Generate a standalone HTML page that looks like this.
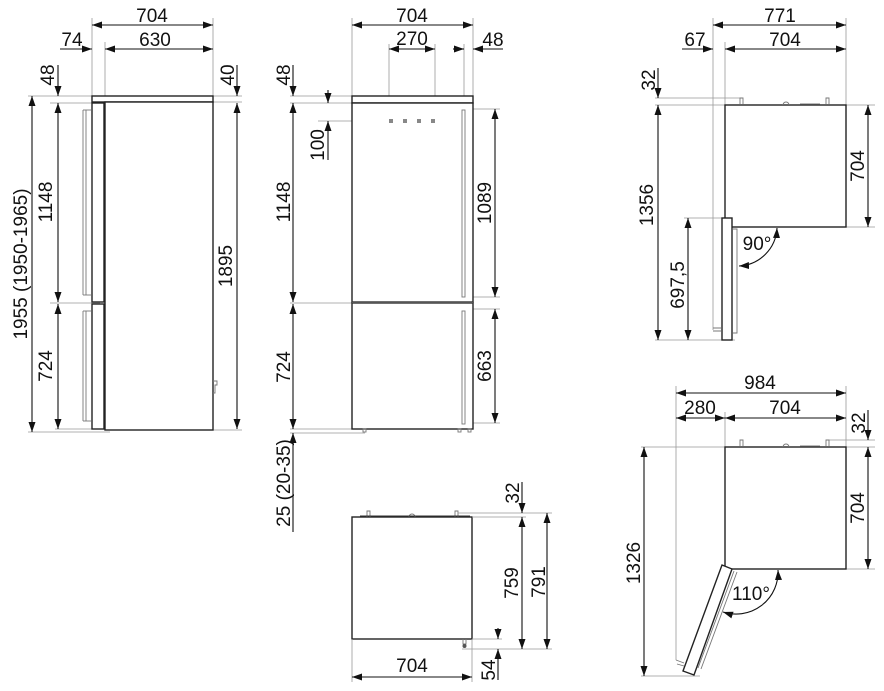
<!DOCTYPE html>
<html><head><meta charset="utf-8"><style>
html,body{margin:0;padding:0;background:#fff}
svg{display:block}
text{font-family:"Liberation Sans",Arial,sans-serif;font-size:19px;fill:#111}
.d{stroke:#111;stroke-width:1.1;fill:none}
.e{stroke:#999;stroke-width:0.8;fill:none}
.b{stroke:#222;stroke-width:1.4;fill:#fff}
.h{stroke:#777;stroke-width:0.9;fill:none}
</style></head><body>
<svg width="884" height="691" viewBox="0 0 884 691" xmlns="http://www.w3.org/2000/svg">
<defs>
<marker id="a" viewBox="0 0 10 10" refX="10" refY="5" markerWidth="10" markerHeight="10" markerUnits="userSpaceOnUse" orient="auto-start-reverse"><path d="M0,1.5 L10,5 L0,8.5z" fill="#111"/></marker>
</defs>
<g>
<!-- ===== LEFT side view ===== -->
<line class="e" x1="92" y1="18" x2="92" y2="96"/><line class="e" x1="105" y1="42" x2="105" y2="102"/><line class="e" x1="213" y1="18" x2="213" y2="96"/>
<line class="d" x1="92" y1="25" x2="213" y2="25" marker-start="url(#a)" marker-end="url(#a)"/>
<text x="152" y="22" text-anchor="middle">704</text>
<line class="d" x1="60" y1="49" x2="92" y2="49" marker-end="url(#a)"/>
<text x="72" y="46" text-anchor="middle">74</text>
<line class="d" x1="105" y1="49" x2="213" y2="49" marker-start="url(#a)" marker-end="url(#a)"/>
<text x="155" y="46" text-anchor="middle">630</text>
<!-- extension lines -->
<line class="e" x1="28" y1="96" x2="242" y2="96"/>
<line class="e" x1="50" y1="103" x2="92" y2="103"/><line class="e" x1="213" y1="102" x2="242" y2="102"/>
<line class="e" x1="50" y1="303" x2="100" y2="303"/>
<line class="e" x1="28" y1="432" x2="110" y2="432"/><line class="e" x1="55" y1="429" x2="92" y2="429"/>
<line class="e" x1="195" y1="430" x2="242" y2="430"/>
<!-- body -->
<rect class="b" x="92" y="96" width="121" height="6"/>
<rect class="b" x="105" y="102" width="108" height="328"/>
<rect class="b" x="92" y="103" width="12" height="199"/>
<rect class="b" x="92" y="304" width="12" height="125"/>
<line class="h" x1="83" y1="110" x2="83" y2="295"/><line class="h" x1="86" y1="110" x2="86" y2="295"/>
<line class="h" x1="83" y1="110" x2="91" y2="110"/><line class="h" x1="83" y1="295" x2="91" y2="295"/>
<line class="h" x1="83" y1="311" x2="83" y2="421"/><line class="h" x1="86" y1="311" x2="86" y2="421"/>
<line class="h" x1="83" y1="311" x2="91" y2="311"/><line class="h" x1="83" y1="421" x2="91" y2="421"/>
<path class="h" d="M213,381 h4 v4 h-2 v8 h-2"/>
<!-- left dims -->
<line class="d" x1="32" y1="96" x2="32" y2="432" marker-start="url(#a)" marker-end="url(#a)"/>
<text transform="translate(27,264) rotate(-90)" text-anchor="middle">1955 (1950-1965)</text>
<line class="d" x1="58" y1="65" x2="58" y2="96" marker-end="url(#a)"/>
<text transform="translate(54,75) rotate(-90)" text-anchor="middle">48</text>
<line class="d" x1="58" y1="103" x2="58" y2="302" marker-start="url(#a)" marker-end="url(#a)"/>
<text transform="translate(52,202) rotate(-90)" text-anchor="middle">1148</text>
<line class="d" x1="58" y1="304" x2="58" y2="429" marker-start="url(#a)" marker-end="url(#a)"/>
<text transform="translate(52,366) rotate(-90)" text-anchor="middle">724</text>
<line class="d" x1="237" y1="65" x2="237" y2="96" marker-end="url(#a)"/>
<text transform="translate(234,75) rotate(-90)" text-anchor="middle">40</text>
<line class="d" x1="237" y1="103" x2="237" y2="429" marker-start="url(#a)" marker-end="url(#a)"/>
<text transform="translate(232,266) rotate(-90)" text-anchor="middle">1895</text>

<!-- ===== MIDDLE front view ===== -->
<line class="e" x1="352" y1="18" x2="352" y2="96"/><line class="e" x1="473" y1="18" x2="473" y2="96"/>
<line class="d" x1="352" y1="25" x2="473" y2="25" marker-start="url(#a)" marker-end="url(#a)"/>
<text x="412" y="22" text-anchor="middle">704</text>
<line class="e" x1="389" y1="44" x2="389" y2="120"/><line class="e" x1="435" y1="44" x2="435" y2="120"/>
<line class="d" x1="389" y1="49" x2="435" y2="49" marker-start="url(#a)" marker-end="url(#a)"/>
<text x="412" y="45" text-anchor="middle">270</text>
<line class="e" x1="464" y1="44" x2="464" y2="108"/>
<line class="d" x1="453" y1="49" x2="464" y2="49" marker-end="url(#a)"/>
<line class="d" x1="503" y1="49" x2="473" y2="49" marker-end="url(#a)"/>
<text x="493" y="46" text-anchor="middle">48</text>
<line class="e" x1="290" y1="96" x2="352" y2="96"/><line class="e" x1="290" y1="103" x2="352" y2="103"/>
<line class="e" x1="318" y1="121" x2="390" y2="121"/>
<line class="e" x1="290" y1="303" x2="352" y2="303"/>
<line class="e" x1="290" y1="429" x2="352" y2="429"/><line class="e" x1="290" y1="433" x2="365" y2="433"/>
<line class="e" x1="463" y1="109" x2="500" y2="109"/><line class="e" x1="463" y1="297" x2="500" y2="297"/>
<line class="e" x1="463" y1="309" x2="500" y2="309"/><line class="e" x1="463" y1="423" x2="500" y2="423"/>
<rect class="b" x="352" y="96" width="121" height="7"/>
<rect class="b" x="352" y="103" width="121" height="199"/>
<rect class="b" x="352" y="303" width="121" height="126"/>
<line x1="352" y1="302.5" x2="473" y2="302.5" stroke="#555" stroke-width="1.5"/>
<g fill="#888"><rect x="389" y="119" width="4" height="4"/><rect x="403" y="119" width="4" height="4"/><rect x="417" y="119" width="4" height="4"/><rect x="431" y="119" width="4" height="4"/></g>
<rect class="h" x="462" y="110" width="3" height="187"/><rect class="h" x="462" y="311" width="3" height="113"/>
<rect class="h" x="363" y="429" width="3" height="3"/><rect class="h" x="458" y="429" width="3" height="3"/><rect class="h" x="468" y="429" width="3" height="3"/>
<line class="d" x1="293" y1="65" x2="293" y2="96" marker-end="url(#a)"/>
<text transform="translate(290,75) rotate(-90)" text-anchor="middle">48</text>
<line class="d" x1="293" y1="103" x2="293" y2="302" marker-start="url(#a)" marker-end="url(#a)"/>
<text transform="translate(290,202) rotate(-90)" text-anchor="middle">1148</text>
<line class="d" x1="293" y1="304" x2="293" y2="429" marker-start="url(#a)" marker-end="url(#a)"/>
<text transform="translate(290,367) rotate(-90)" text-anchor="middle">724</text>
<line class="d" x1="293" y1="532" x2="293" y2="433" marker-end="url(#a)"/>
<text transform="translate(290,483) rotate(-90)" text-anchor="middle">25 (20-35)</text>
<line class="d" x1="328" y1="90" x2="328" y2="103" marker-end="url(#a)"/>
<line class="d" x1="328" y1="160" x2="328" y2="121" marker-end="url(#a)"/>
<text transform="translate(324,145) rotate(-90)" text-anchor="middle">100</text>
<line class="d" x1="495" y1="109" x2="495" y2="297" marker-start="url(#a)" marker-end="url(#a)"/>
<text transform="translate(491,203) rotate(-90)" text-anchor="middle">1089</text>
<line class="d" x1="495" y1="309" x2="495" y2="423" marker-start="url(#a)" marker-end="url(#a)"/>
<text transform="translate(491,366) rotate(-90)" text-anchor="middle">663</text>

<!-- ===== BOTTOM middle top view ===== -->
<rect class="b" x="352" y="517" width="120" height="122"/>
<path class="h" d="M367,517 v-6 h3 v6 M455,517 v-6 h3 v6 M409,517 a3,3 0 0 1 6,0 M425,516 h20"/>
<line x1="360" y1="516" x2="470" y2="516" stroke="#333" stroke-width="1"/>
<path class="h" d="M463,639 v5 h3 v-5"/><circle cx="464.5" cy="646" r="2" fill="#555"/>
<line class="e" x1="458" y1="513" x2="552" y2="513"/><line class="e" x1="472" y1="517" x2="526" y2="517"/>
<line class="e" x1="472" y1="639" x2="502" y2="639"/><line class="e" x1="462" y1="649" x2="552" y2="649"/>
<line class="e" x1="352" y1="639" x2="352" y2="682"/><line class="e" x1="472" y1="639" x2="472" y2="682"/>
<line class="d" x1="522" y1="482" x2="522" y2="513" marker-end="url(#a)"/>
<text transform="translate(519,493) rotate(-90)" text-anchor="middle">32</text>
<line class="d" x1="522" y1="517" x2="522" y2="649" marker-start="url(#a)" marker-end="url(#a)"/>
<text transform="translate(518,583) rotate(-90)" text-anchor="middle">759</text>
<line class="d" x1="547" y1="513" x2="547" y2="649" marker-start="url(#a)" marker-end="url(#a)"/>
<text transform="translate(545,582) rotate(-90)" text-anchor="middle">791</text>
<line class="d" x1="498" y1="628" x2="498" y2="639" marker-end="url(#a)"/>
<line class="d" x1="498" y1="680" x2="498" y2="649" marker-end="url(#a)"/>
<text transform="translate(495,670) rotate(-90)" text-anchor="middle">54</text>
<line class="d" x1="352" y1="677" x2="472" y2="677" marker-start="url(#a)" marker-end="url(#a)"/>
<text x="412" y="672" text-anchor="middle">704</text>

<!-- ===== TOP right, 90 deg ===== -->
<line class="e" x1="713" y1="18" x2="713" y2="330"/><line class="e" x1="725" y1="42" x2="725" y2="105"/><line class="e" x1="846" y1="18" x2="846" y2="105"/>
<line class="d" x1="713" y1="25" x2="846" y2="25" marker-start="url(#a)" marker-end="url(#a)"/>
<text x="780" y="22" text-anchor="middle">771</text>
<line class="d" x1="682" y1="49" x2="713" y2="49" marker-end="url(#a)"/>
<text x="695" y="46" text-anchor="middle">67</text>
<line class="d" x1="725" y1="49" x2="846" y2="49" marker-start="url(#a)" marker-end="url(#a)"/>
<text x="785" y="46" text-anchor="middle">704</text>
<line class="e" x1="655" y1="98" x2="742" y2="98"/><line class="e" x1="655" y1="105" x2="875" y2="105"/>
<line class="e" x1="846" y1="227" x2="875" y2="227"/>
<line class="e" x1="684" y1="218" x2="722" y2="218"/><line class="e" x1="655" y1="340" x2="735" y2="340"/>
<rect class="b" x="725" y="105" width="121" height="122"/>
<path class="h" d="M740,104 v-6 h3 v6 M826,104 v-6 h3 v6 M783,105 a3,3 0 0 1 6,0 M800,104 h20"/>
<rect class="b" x="722" y="218" width="10" height="122"/>
<path class="h" d="M733,229 h4 v104 h-4"/>
<path class="h" d="M713,328 h8 M713,331 h8"/>
<line class="d" x1="658" y1="68" x2="658" y2="98" marker-end="url(#a)"/>
<text transform="translate(655,80) rotate(-90)" text-anchor="middle">32</text>
<line class="d" x1="658" y1="105" x2="658" y2="340" marker-start="url(#a)" marker-end="url(#a)"/>
<text transform="translate(653,205) rotate(-90)" text-anchor="middle">1356</text>
<line class="d" x1="688" y1="218" x2="688" y2="340" marker-start="url(#a)" marker-end="url(#a)"/>
<text transform="translate(684,285) rotate(-90)" text-anchor="middle">697,5</text>
<line class="d" x1="868" y1="105" x2="868" y2="227" marker-start="url(#a)" marker-end="url(#a)"/>
<text transform="translate(864,166) rotate(-90)" text-anchor="middle">704</text>
<path class="d" d="M777,228 A40,40 0 0 1 739,266" marker-start="url(#a)" marker-end="url(#a)"/>
<text x="757" y="250" text-anchor="middle">90°</text>

<!-- ===== BOTTOM right, 110 deg ===== -->
<line class="e" x1="676" y1="386" x2="676" y2="660"/><line class="e" x1="725" y1="412" x2="725" y2="447"/><line class="e" x1="846" y1="386" x2="846" y2="447"/>
<line class="d" x1="676" y1="393" x2="846" y2="393" marker-start="url(#a)" marker-end="url(#a)"/>
<text x="760" y="389" text-anchor="middle">984</text>
<line class="d" x1="676" y1="418" x2="725" y2="418" marker-start="url(#a)" marker-end="url(#a)"/>
<text x="700" y="414" text-anchor="middle">280</text>
<line class="d" x1="725" y1="418" x2="846" y2="418" marker-start="url(#a)" marker-end="url(#a)"/>
<text x="785" y="414" text-anchor="middle">704</text>
<line class="e" x1="826" y1="440" x2="875" y2="440"/><line class="e" x1="641" y1="447" x2="875" y2="447"/>
<line class="e" x1="846" y1="569" x2="875" y2="569"/><line class="e" x1="641" y1="676" x2="700" y2="676"/>
<rect class="b" x="725" y="447" width="121" height="122"/>
<path class="h" d="M740,446 v-6 h3 v6 M826,446 v-6 h3 v6 M783,447 a3,3 0 0 1 6,0 M800,446 h20"/>
<polygon class="b" points="722,565 732,569 694,675 683,671"/>
<path class="h" d="M734,571 L698,668 M737,572 L701,669"/>
<path class="h" d="M676,660 l8,3 M677,664 l7,2"/>
<line class="d" x1="868" y1="410" x2="868" y2="440" marker-end="url(#a)"/>
<text transform="translate(865,423) rotate(-90)" text-anchor="middle">32</text>
<line class="d" x1="868" y1="447" x2="868" y2="569" marker-start="url(#a)" marker-end="url(#a)"/>
<text transform="translate(864,508) rotate(-90)" text-anchor="middle">704</text>
<line class="d" x1="644" y1="447" x2="644" y2="676" marker-start="url(#a)" marker-end="url(#a)"/>
<text transform="translate(640,563) rotate(-90)" text-anchor="middle">1326</text>
<path class="d" d="M778,570 A42,42 0 0 1 723,612" marker-start="url(#a)" marker-end="url(#a)"/>
<text x="751" y="600" text-anchor="middle">110°</text>
</g>
</svg>
</body></html>
